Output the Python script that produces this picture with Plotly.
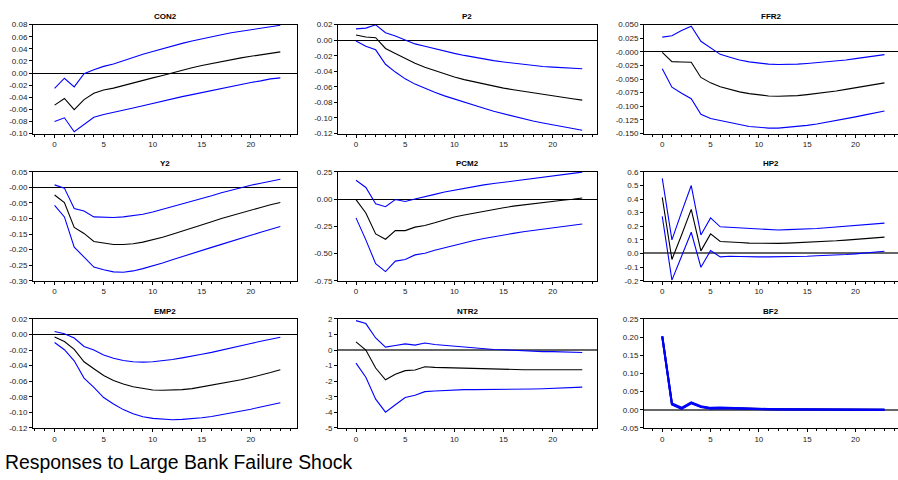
import plotly.graph_objects as go

periods = list(range(24))

# ---------------- data ----------------
con2_mean = [-0.053, -0.042, -0.0605, -0.044, -0.0335, -0.028, -0.025, -0.0205, -0.016, -0.012, -0.008, -0.004,
             0.0005, 0.005, 0.0087, 0.0124, 0.0157, 0.019, 0.022, 0.025, 0.0276, 0.030, 0.0324, 0.035]
con2_up = [-0.0254, -0.0086, -0.023, -0.001, 0.0054, 0.011, 0.015, 0.0205, 0.026, 0.031, 0.0357, 0.0405,
           0.045, 0.049, 0.053, 0.0568, 0.060, 0.0632, 0.0665, 0.069, 0.072, 0.0746, 0.077, 0.079]
con2_lo = [-0.080, -0.074, -0.097, -0.085, -0.073, -0.0686, -0.0654, -0.0616, -0.0578, -0.054, -0.050, -0.0465,
           -0.0427, -0.039, -0.0357, -0.0324, -0.0286, -0.0254, -0.0216, -0.019, -0.0157, -0.013, -0.0097, -0.008]

p2_mean = [0.0066, 0.004, 0.0032, -0.0107, -0.017, -0.0238, -0.0297, -0.0347, -0.039, -0.0435, -0.0473, -0.0507,
           -0.0536, -0.0565, -0.059, -0.0616, -0.0637, -0.0658, -0.0679, -0.070, -0.072, -0.0737, -0.0754, -0.0771]
p2_up = [0.0145, 0.0155, 0.0197, 0.0095, 0.0053, 0.0007, -0.0048, -0.0078, -0.011, -0.014, -0.017, -0.0196,
         -0.022, -0.0242, -0.0263, -0.028, -0.0297, -0.0313, -0.0326, -0.0339, -0.0347, -0.0356, -0.0364, -0.0368]
p2_lo = [-0.001, -0.0078, -0.0124, -0.031, -0.041, -0.0497, -0.0565, -0.062, -0.067, -0.0716, -0.0758, -0.080,
         -0.0838, -0.0876, -0.0914, -0.0948, -0.098, -0.101, -0.104, -0.1065, -0.109, -0.111, -0.1133, -0.1158]

ffr2_mean = [-0.001, -0.018, -0.0186, -0.019, -0.047, -0.057, -0.064, -0.069, -0.0735, -0.0767, -0.079, -0.081,
             -0.0815, -0.0815, -0.0804, -0.0786, -0.0768, -0.0744, -0.072, -0.069, -0.066, -0.063, -0.060, -0.057]
ffr2_up = [0.027, 0.0296, 0.039, 0.047, 0.0194, 0.0074, -0.0046, -0.010, -0.015, -0.0184, -0.021, -0.0226,
           -0.0232, -0.0232, -0.0226, -0.0214, -0.020, -0.0184, -0.0166, -0.015, -0.0125, -0.010, -0.0076, -0.0052]
ffr2_lo = [-0.031, -0.065, -0.076, -0.086, -0.1145, -0.1225, -0.126, -0.1295, -0.133, -0.137, -0.1386, -0.140,
           -0.140, -0.1386, -0.1374, -0.135, -0.1326, -0.1296, -0.1266, -0.123, -0.1194, -0.1158, -0.1122, -0.1086]

y2_mean = [-0.0246, -0.049, -0.129, -0.148, -0.174, -0.179, -0.1835, -0.1835, -0.181, -0.176, -0.1686, -0.1602,
           -0.1507, -0.1413, -0.1308, -0.1202, -0.1108, -0.1003, -0.0908, -0.0813, -0.0729, -0.0645, -0.0561, -0.0488]
y2_up = [0.008, -0.0025, -0.0677, -0.076, -0.095, -0.096, -0.097, -0.095, -0.0919, -0.0866, -0.0792, -0.0708,
         -0.0624, -0.054, -0.0445, -0.0351, -0.0267, -0.0172, -0.0088, -0.0004, 0.0069, 0.0132, 0.0196, 0.0259]
y2_lo = [-0.058, -0.095, -0.192, -0.2235, -0.256, -0.265, -0.2715, -0.2726, -0.2685, -0.2611, -0.2527, -0.2432,
         -0.2327, -0.2222, -0.2117, -0.2022, -0.1928, -0.1833, -0.1728, -0.1633, -0.1539, -0.1444, -0.1349, -0.1255]

pcm2_mean = [-0.005, -0.128, -0.32, -0.369, -0.29, -0.29, -0.258, -0.2425, -0.2185, -0.1914, -0.1644, -0.1464,
             -0.1284, -0.1104, -0.0953, -0.0803, -0.0653, -0.0533, -0.0413, -0.0293, -0.0203, -0.0113, -0.0023, 0.0098]
pcm2_up = [0.172, 0.106, -0.044, -0.071, -0.005, -0.023, 0.001, 0.019, 0.043, 0.064, 0.082, 0.100,
           0.115, 0.130, 0.142, 0.154, 0.166, 0.178, 0.190, 0.202, 0.214, 0.226, 0.235, 0.247]
pcm2_lo = [-0.173, -0.375, -0.594, -0.666, -0.570, -0.555, -0.513, -0.498, -0.471, -0.447, -0.423, -0.402,
           -0.381, -0.363, -0.345, -0.330, -0.315, -0.300, -0.288, -0.276, -0.264, -0.252, -0.243, -0.230]

hp2_mean = [0.4126, -0.044, 0.136, 0.324, 0.019, 0.144, 0.088, 0.086, 0.081, 0.076, 0.074, 0.074,
            0.074, 0.076, 0.079, 0.081, 0.083, 0.088, 0.093, 0.098, 0.103, 0.107, 0.112, 0.120]
hp2_up = [0.552, 0.100, 0.304, 0.499, 0.136, 0.261, 0.196, 0.192, 0.184, 0.180, 0.175, 0.172,
          0.172, 0.175, 0.177, 0.180, 0.184, 0.189, 0.194, 0.199, 0.204, 0.208, 0.216, 0.223]
hp2_lo = [0.273, -0.196, -0.020, 0.156, -0.101, 0.021, -0.025, -0.020, -0.022, -0.025, -0.025, -0.025,
          -0.025, -0.022, -0.022, -0.020, -0.017, -0.015, -0.010, -0.008, -0.003, 0.002, 0.007, 0.016]

emp2_mean = [-0.0031, -0.009, -0.019, -0.035, -0.044, -0.0527, -0.059, -0.0636, -0.067, -0.0695, -0.0712, -0.0716,
             -0.0716, -0.0708, -0.0695, -0.0674, -0.0653, -0.0632, -0.0607, -0.0582, -0.0552, -0.0523, -0.0489, -0.0452]
emp2_up = [0.004, 0.001, -0.0044, -0.0153, -0.020, -0.0262, -0.0304, -0.0334, -0.035, -0.0355, -0.035, -0.0338,
           -0.0321, -0.030, -0.028, -0.0254, -0.0229, -0.0203, -0.0174, -0.0145, -0.0115, -0.0086, -0.006, -0.0035]
emp2_lo = [-0.0103, -0.0195, -0.0338, -0.056, -0.0679, -0.081, -0.0893, -0.0965, -0.1019, -0.1057, -0.1078, -0.109,
           -0.1095, -0.109, -0.1082, -0.107, -0.1053, -0.1032, -0.101, -0.0986, -0.096, -0.0931, -0.0906, -0.0876]

ntr2_mean = [0.527, 0.0, -1.15, -1.91, -1.55, -1.32, -1.28, -1.07, -1.11, -1.13, -1.15, -1.18,
             -1.20, -1.22, -1.24, -1.24, -1.26, -1.26, -1.26, -1.26, -1.26, -1.26, -1.26, -1.26]
ntr2_up = [1.894, 1.705, 0.78, 0.19, 0.30, 0.40, 0.32, 0.46, 0.36, 0.30, 0.25, 0.21,
           0.15, 0.09, 0.04, 0.02, -0.02, -0.06, -0.08, -0.10, -0.10, -0.12, -0.12, -0.15]
ntr2_lo = [-0.84, -1.74, -3.15, -3.99, -3.51, -3.05, -2.90, -2.67, -2.63, -2.59, -2.56, -2.54,
           -2.54, -2.54, -2.54, -2.54, -2.54, -2.52, -2.50, -2.48, -2.46, -2.44, -2.42, -2.38]

bf2_mean = [0.202, 0.0158, 0.004, 0.019, 0.0086, 0.004, 0.005, 0.004, 0.003, 0.0023, 0.002, 0.0015,
            0.0012, 0.001, 0.0008, 0.0006, 0.0005, 0.0004, 0.0003, 0.0002, 0.0002, 0.0001, 0.0001, 0.0]
bf2_up = [0.203, 0.0175, 0.0055, 0.0205, 0.0098, 0.0052, 0.0062, 0.005, 0.0038, 0.003, 0.0026, 0.002,
          0.0017, 0.0014, 0.0012, 0.001, 0.0008, 0.0007, 0.0006, 0.0005, 0.0004, 0.0003, 0.0002, 0.0002]
bf2_lo = [0.201, 0.0142, 0.0025, 0.0175, 0.0074, 0.0028, 0.0038, 0.003, 0.0022, 0.0016, 0.0014, 0.001,
          0.0007, 0.0006, 0.0004, 0.0002, 0.0002, 0.0001, 0.0, 0.0, 0.0, -0.0001, -0.0001, -0.0002]

titles = ["CON2", "P2", "FFR2", "Y2", "PCM2", "HP2", "EMP2", "NTR2", "BF2"]

tick_vals = [
    [0.08, 0.06, 0.04, 0.02, 0.0, -0.02, -0.04, -0.06, -0.08, -0.10],
    [0.02, 0.0, -0.02, -0.04, -0.06, -0.08, -0.10, -0.12],
    [0.05, 0.025, 0.0, -0.025, -0.05, -0.075, -0.1, -0.125, -0.15],
    [0.05, 0.0, -0.05, -0.10, -0.15, -0.20, -0.25, -0.30],
    [0.25, 0.0, -0.25, -0.50, -0.75],
    [0.6, 0.5, 0.4, 0.3, 0.2, 0.1, 0.0, -0.1, -0.2],
    [0.02, 0.0, -0.02, -0.04, -0.06, -0.08, -0.10, -0.12],
    [2, 1, 0, -1, -2, -3, -4, -5],
    [0.25, 0.20, 0.15, 0.10, 0.05, 0.0, -0.05],
]
tick_text = [
    ["0.08", "0.06", "0.04", "0.02", "0.00", "-0.02", "-0.04", "-0.06", "-0.08", "-0.10"],
    ["0.02", "0.00", "-0.02", "-0.04", "-0.06", "-0.08", "-0.10", "-0.12"],
    ["0.050", "0.025", "-0.000", "-0.025", "-0.050", "-0.075", "-0.100", "-0.125", "-0.150"],
    ["0.05", "-0.00", "-0.05", "-0.10", "-0.15", "-0.20", "-0.25", "-0.30"],
    ["0.25", "0.00", "-0.25", "-0.50", "-0.75"],
    ["0.6", "0.5", "0.4", "0.3", "0.2", "0.1", "0.0", "-0.1", "-0.2"],
    ["0.02", "0.00", "-0.02", "-0.04", "-0.06", "-0.08", "-0.10", "-0.12"],
    ["2", "1", "0", "-1", "-2", "-3", "-4", "-5"],
    ["0.25", "0.20", "0.15", "0.10", "0.05", "0.00", "-0.05"],
]
x_ticks = [0, 5, 10, 15, 20]
caption = "Responses to Large Bank Failure Shock"

series = [
    (con2_mean, con2_up, con2_lo), (p2_mean, p2_up, p2_lo), (ffr2_mean, ffr2_up, ffr2_lo),
    (y2_mean, y2_up, y2_lo), (pcm2_mean, pcm2_up, pcm2_lo), (hp2_mean, hp2_up, hp2_lo),
    (emp2_mean, emp2_up, emp2_lo), (ntr2_mean, ntr2_up, ntr2_lo), (bf2_mean, bf2_up, bf2_lo),
]

# ---------------- layout geometry (pixels) ----------------
W, H = 898, 480
col_px = [(33, 297), (338, 597), (644, 898)]
row_px = [(21, 132), (171, 282), (321, 432)]
x_ranges = [[-2.2, 24.7], [-1.83, 24.5], [-1.89, 24.4]]
gray_zero = {"HP2", "BF2", "NTR2"}

fig = go.Figure()
layout = dict(
    width=W, height=H, margin=dict(l=0, r=0, t=0, b=0),
    paper_bgcolor="white", plot_bgcolor="white", showlegend=False,
    font=dict(family="Liberation Sans, Arial, sans-serif", size=8, color="#222"),
)
annotations = []
for i, (mean, up, lo) in enumerate(series):
    r, c = divmod(i, 3)
    ax = "" if i == 0 else str(i + 1)
    xa, ya = "x" + ax, "y" + ax
    for vals, col in ((mean, "black"), (up, "blue"), (lo, "blue")):
        fig.add_trace(go.Scatter(x=periods, y=vals, mode="lines", xaxis=xa, yaxis=ya,
                                 line=dict(color=col, width=1.1 if titles[i] != "BF2" else 2),
                                 hoverinfo="skip"))
    x0, x1 = col_px[c]
    y0, y1 = row_px[r]
    tv = tick_vals[i]
    layout["xaxis" + ax] = dict(
        domain=[x0 / W, x1 / W], range=x_ranges[c], anchor=ya,
        tickvals=x_ticks, ticks="outside", ticklen=3, tickcolor="black",
        minor=dict(dtick=1, ticks="outside", ticklen=2, tickcolor="black"),
        showgrid=False, zeroline=False, showline=True, linecolor="black", linewidth=1,
        mirror=True, tickfont=dict(size=8, color="#222"), fixedrange=True,
    )
    layout["yaxis" + ax] = dict(
        domain=[1 - y1 / H, 1 - y0 / H], range=[min(tv), max(tv)], anchor=xa,
        tickvals=tv, ticktext=tick_text[i], ticks="outside", ticklen=3, tickcolor="black",
        showgrid=False, zeroline=True,
        zerolinecolor="#666" if titles[i] in gray_zero else "black",
        zerolinewidth=1.5 if titles[i] in gray_zero else 1,
        showline=True, linecolor="black", linewidth=1, mirror=(c != 2),
        tickfont=dict(size=8, color="#222"), fixedrange=True,
    )
    annotations.append(dict(
        text="<b>" + titles[i] + "</b>", x=(x0 + x1) / 2 / W, y=1 - (y0 - 8) / H,
        xref="paper", yref="paper", xanchor="center", yanchor="middle", showarrow=False,
        font=dict(size=8, color="black", family="Liberation Sans, Arial, sans-serif"),
    ))

annotations.append(dict(
    text=caption, x=3 / W, y=1 - 467 / H, xref="paper", yref="paper",
    xanchor="left", yanchor="middle", showarrow=False,
    font=dict(size=19.4, color="black", family="Liberation Sans, Arial, sans-serif"),
))
layout["annotations"] = annotations
fig.update_layout(**layout)
fig.write_html("out.html")
